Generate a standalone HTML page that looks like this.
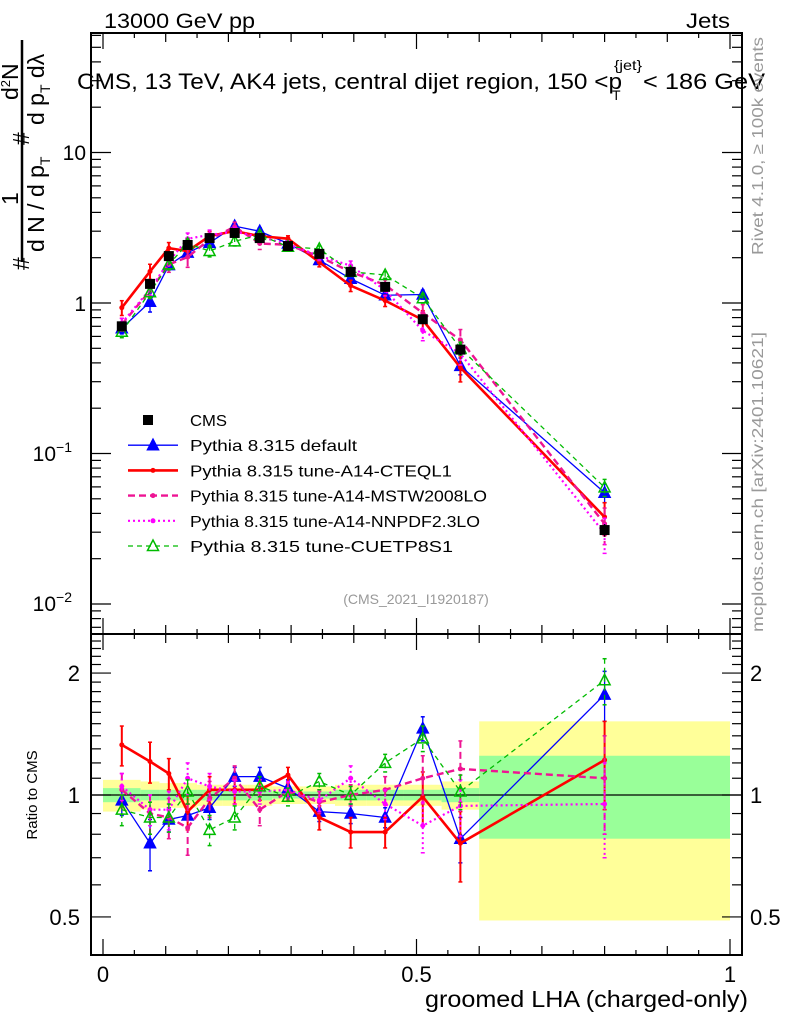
<!DOCTYPE html>
<html><head><meta charset="utf-8"><style>
body{margin:0;background:#fff;}
svg{display:block;font-family:"Liberation Sans",sans-serif;}
</style></head><body>
<svg id="c" width="786" height="1024" viewBox="0 0 786 1024">
<g id="bands"></g>
<g id="ticks"></g>
<line x1="91" y1="795" x2="742" y2="795" stroke="#000" stroke-width="1.2"/>
<g id="series"></g>
<rect x="91" y="33" width="651" height="601" fill="none" stroke="#000" stroke-width="2"/>
<rect x="91" y="634" width="651" height="321" fill="none" stroke="#000" stroke-width="2"/>
<text x="104" y="28" font-size="21" textLength="151" lengthAdjust="spacingAndGlyphs">13000 GeV pp</text>
<text x="686" y="28" font-size="21" textLength="44" lengthAdjust="spacingAndGlyphs">Jets</text>
<g font-size="22">
<text x="77" y="89" textLength="545" lengthAdjust="spacingAndGlyphs">CMS, 13 TeV, AK4 jets, central dijet region, 150 &lt;p</text>
<text x="612" y="100" font-size="14">T</text>
<text x="614" y="70" font-size="14" textLength="28" lengthAdjust="spacingAndGlyphs">{jet}</text>
<text x="643" y="89" textLength="122" lengthAdjust="spacingAndGlyphs">&lt; 186 GeV</text>
</g>
<text x="416" y="604" font-size="14" fill="#999" text-anchor="middle">(CMS_2021_I1920187)</text>
<text transform="translate(763,255) rotate(-90)" font-size="16" fill="#999" textLength="218" lengthAdjust="spacingAndGlyphs">Rivet 4.1.0, ≥ 100k events</text>
<text transform="translate(763,632) rotate(-90)" font-size="16" fill="#999" textLength="300" lengthAdjust="spacingAndGlyphs">mcplots.cern.ch [arXiv:2401.10621]</text>
<g font-size="23">
<text transform="translate(29,270) rotate(-90)">#</text>
<text transform="translate(18,205) rotate(-90)">1</text>
<line x1="22" y1="40" x2="22" y2="262" stroke="#000" stroke-width="2.5"/>
<text transform="translate(44,252) rotate(-90)">d N / d p<tspan font-size="14" dy="6">T</tspan></text>
<text transform="translate(29,145) rotate(-90)">#</text>
<text transform="translate(18,100) rotate(-90)">d<tspan font-size="13" dy="-8">2</tspan><tspan dy="8">N</tspan></text>
<text transform="translate(44,125) rotate(-90)">d p<tspan font-size="14" dy="6">T</tspan><tspan dy="-6"> dλ</tspan></text>
</g>
<text transform="translate(37,795) rotate(-90)" font-size="15" text-anchor="middle">Ratio to CMS</text>
<text x="425" y="1007" font-size="23" textLength="323" lengthAdjust="spacingAndGlyphs">groomed LHA (charged-only)</text>
<g id="legend"></g>
</svg>
<script>
const NS="http://www.w3.org/2000/svg";
const binEdges=[0,0.06,0.09,0.12,0.15,0.19,0.23,0.27,0.32,0.37,0.42,0.48,0.54,0.6,1.0];
const xCenters=[0.03,0.075,0.105,0.135,0.17,0.21,0.25,0.295,0.345,0.395,0.45,0.51,0.57,0.8];
const cmsValues=[0.70,1.34,2.05,2.43,2.70,2.92,2.70,2.39,2.12,1.61,1.28,0.78,0.49,0.031];
const cmsErrors=[0.04,0.07,0.09,0.1,0.1,0.1,0.1,0.09,0.08,0.06,0.06,0.05,0.04,0.003];
const bandYellowHi=[1.09,1.08,1.07,1.07,1.06,1.06,1.06,1.05,1.05,1.06,1.06,1.06,1.08,1.52];
const bandYellowLo=[0.91,0.92,0.93,0.93,0.94,0.94,0.94,0.95,0.95,0.94,0.94,0.94,0.92,0.49];
const bandGreenHi=[1.04,1.03,1.03,1.03,1.03,1.03,1.03,1.02,1.02,1.03,1.03,1.03,1.04,1.25];
const bandGreenLo=[0.96,0.97,0.97,0.97,0.97,0.97,0.97,0.98,0.98,0.97,0.97,0.97,0.96,0.78];
const ratioDefault=[0.97,0.76,0.87,0.89,0.93,1.11,1.11,1.04,0.91,0.90,0.88,1.46,0.78,1.77];
const errDefault=[0.08,0.11,0.06,0.06,0.06,0.06,0.06,0.05,0.05,0.05,0.05,0.1,0.1,0.25];
const ratioCTEQ=[1.33,1.21,1.13,0.91,1.03,1.03,1.03,1.12,0.88,0.81,0.81,0.99,0.76,1.22];
const errCTEQ=[0.15,0.14,0.1,0.09,0.08,0.08,0.06,0.05,0.06,0.07,0.07,0.15,0.15,0.3];
const ratioMSTW=[1.03,0.90,0.88,0.83,0.98,1.10,0.92,1.02,0.96,1.00,1.03,1.10,1.16,1.10];
const errMSTW=[0.1,0.1,0.1,0.12,0.1,0.08,0.08,0.05,0.06,0.06,0.08,0.15,0.2,0.3];
const ratioNNPDF=[1.05,0.92,0.92,1.1,1.05,1.02,1.02,1.03,0.97,1.10,0.95,0.84,0.94,0.95];
const errNNPDF=[0.08,0.08,0.1,0.1,0.08,0.07,0.07,0.05,0.06,0.08,0.08,0.12,0.15,0.25];
const ratioCUET=[0.92,0.88,0.88,1.02,0.82,0.88,1.05,0.99,1.08,1.00,1.20,1.38,1.02,1.92];
const errCUET=[0.08,0.08,0.07,0.07,0.07,0.06,0.06,0.05,0.05,0.05,0.06,0.1,0.1,0.25];
const legendLabels=["CMS","Pythia 8.315 default","Pythia 8.315 tune-A14-CTEQL1","Pythia 8.315 tune-A14-MSTW2008LO","Pythia 8.315 tune-A14-NNPDF2.3LO","Pythia 8.315 tune-CUETP8S1"];

const X=v=>103+v*627;
const Ym=v=>303-150.5*Math.log10(v);
const Yr=v=>795-405*Math.log10(v);
function el(t,a,p){const e=document.createElementNS(NS,t);for(const k in a)e.setAttribute(k,a[k]);p.appendChild(e);return e;}

const bg=document.getElementById('bands');
for(let i=0;i<binEdges.length-1;i++){
  const x1=X(binEdges[i]),x2=X(binEdges[i+1]);
  const r1=el('rect',{x:x1,y:Yr(bandYellowHi[i]),width:x2-x1,height:Yr(bandYellowLo[i])-Yr(bandYellowHi[i]),fill:'#ffff99'},bg);
  
  
  const r2=el('rect',{x:x1,y:Yr(bandGreenHi[i]),width:x2-x1,height:Yr(bandGreenLo[i])-Yr(bandGreenHi[i]),fill:'#99ff99'},bg);
  
  
}
const tg=document.getElementById('ticks');
function tk(x1,y1,x2,y2){el('line',{x1,y1,x2,y2,stroke:'#000','stroke-width':1.2},tg);}
for(let k=0;k<=20;k++){const v=k*0.05,x=X(v);const L=(k%10==0)?16:(k%2==0?9:5);
  tk(x,33,x,33+L);tk(x,634,x,634-L);tk(x,634,x,634+L);tk(x,955,x,955-L);}
for(let d=-3;d<=1;d++)for(let m=1;m<10;m++){const v=m*Math.pow(10,d),y=Ym(v);if(y<33||y>634)continue;const L=m==1?20:10;tk(91,y,91+L,y);tk(742,y,742-L,y);}
for(let v=0.4;v<=2.5;v+=0.1){const y=Yr(v);if(y<634||y>955)continue;const maj=Math.abs(v-0.5)<0.01||Math.abs(v-1)<0.01||Math.abs(v-2)<0.01;const L=maj?20:10;tk(91,y,91+L,y);tk(742,y,742-L,y);}
function txt(x,y,s,a,anchor,name){const t=el('text',{x,y,'font-size':a,'text-anchor':anchor},tg);t.textContent=s;return t;}
txt(86,160,'10',21,'end','y-tick-10');txt(86,311,'1',21,'end','y-tick-1');
const t1=txt(72,461,'10',21,'end','y-tick-0.1');const s1=el('tspan',{dy:-9,'font-size':14},t1);s1.textContent='−1';
const t2=txt(72,611,'10',21,'end','y-tick-0.01');const s2=el('tspan',{dy:-9,'font-size':14},t2);s2.textContent='−2';
[[2,'2'],[1,'1'],[0.5,'0.5']].forEach(([v,s])=>{txt(80,Yr(v)+8,s,22,'end','ratio-tick-left');txt(750,Yr(v)+8,s,22,'start','ratio-tick-right');});
[[0,'0'],[0.5,'0.5'],[1,'1']].forEach(([v,s])=>txt(X(v),982,s,22,'middle','x-tick'));

const sg=document.getElementById('series');
const styles=[
 {r:ratioDefault,e:errDefault,c:'#0000ff',w:1.3,d:'',m:'tri',fill:true,name:'pythia-default'},
 {r:ratioCTEQ,e:errCTEQ,c:'#ff0000',w:2.6,d:'',m:'dot',name:'pythia-a14-cteql1'},
 {r:ratioMSTW,e:errMSTW,c:'#ee1493',w:2.4,d:'7,4',m:'dot',name:'pythia-a14-mstw2008lo'},
 {r:ratioNNPDF,e:errNNPDF,c:'#ff00ff',w:2.2,d:'2,3',m:'dot',name:'pythia-a14-nnpdf23lo'},
 {r:ratioCUET,e:errCUET,c:'#00bb00',w:1.3,d:'5,4',m:'tri',fill:false,name:'pythia-cuetp8s1'}];
function marker(g,s,x,y){
  if(s.m=='tri'){el('polygon',{points:`${x},${y-6} ${x-5.5},${y+4.5} ${x+5.5},${y+4.5}`,fill:s.fill?s.c:'#fff','fill-opacity':s.fill?1:0,stroke:s.c,'stroke-width':1.5},g);}
  else el('circle',{cx:x,cy:y,r:2.5,fill:s.c},g);
}
styles.forEach(s=>{
  [['main',Ym],['ratio',Yr]].forEach(([pan,Y])=>{
    const g=el('g',{},sg);
    
    
    const vals=xCenters.map((x,i)=>pan=='main'?cmsValues[i]*s.r[i]:s.r[i]);
    const pts=xCenters.map((x,i)=>X(x)+','+Y(vals[i])).join(' ');
    el('polyline',{points:pts,fill:'none',stroke:s.c,'stroke-width':s.w,'stroke-dasharray':s.d},g);
    xCenters.forEach((x,i)=>{const v=vals[i],e=v*s.e[i]/s.r[i];const px=X(x);
      el('line',{x1:px,y1:Y(v+e),x2:px,y2:Y(Math.max(v-e,v*0.3)),stroke:s.c,'stroke-width':Math.min(s.w,2),'stroke-dasharray':s.d},g);
      el('line',{x1:px-2,y1:Y(v+e),x2:px+2,y2:Y(v+e),stroke:s.c,'stroke-width':1.5},g);
      el('line',{x1:px-2,y1:Y(v-e),x2:px+2,y2:Y(v-e),stroke:s.c,'stroke-width':1.5},g);
      marker(g,s,px,Y(v));});
  });
});
const cg=el('g',{},sg);


xCenters.forEach((x,i)=>{const px=X(x),y=Ym(cmsValues[i]);
  el('line',{x1:px,y1:Ym(cmsValues[i]+cmsErrors[i]),x2:px,y2:Ym(cmsValues[i]-cmsErrors[i]),stroke:'#000','stroke-width':1.5},cg);
  el('rect',{x:px-5,y:y-5,width:10,height:10,fill:'#000'},cg);});

const lg=document.getElementById('legend');
const legSty=[{sq:true}].concat(styles);
const legWidths=[37,167,262,297,290,263];
legendLabels.forEach((lab,i)=>{const y=420+i*25.2;
  const g=el('g',{},lg);
  
  
  const s=legSty[i];
  if(s.sq)el('rect',{x:143,y:y-5,width:10,height:10,fill:'#000'},g);
  else{el('line',{x1:128,y1:y,x2:178,y2:y,stroke:s.c,'stroke-width':s.w,'stroke-dasharray':s.d},g);marker(g,s,153,y);}
  const t=el('text',{x:190,y:y+6,'font-size':16,textLength:legWidths[i],lengthAdjust:'spacingAndGlyphs'},g);t.textContent=lab;});
</script>
</body></html>
